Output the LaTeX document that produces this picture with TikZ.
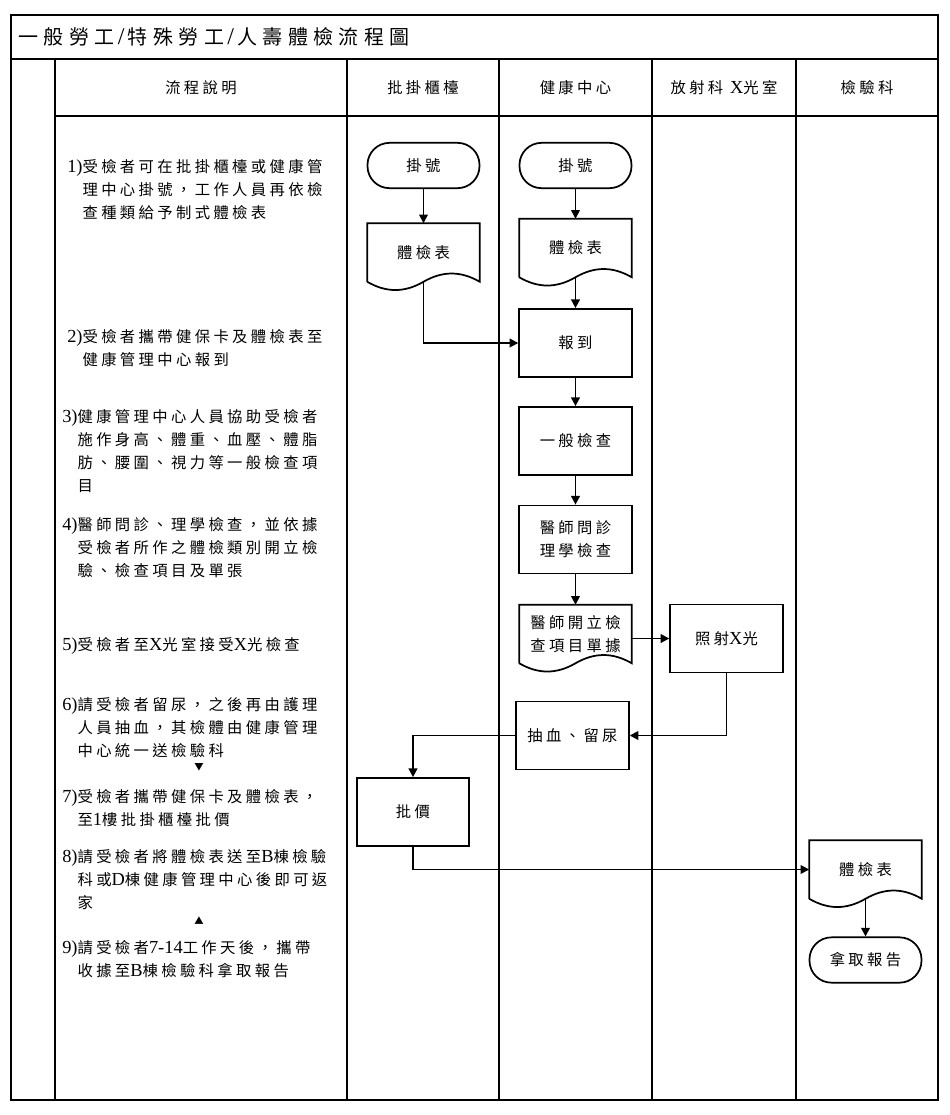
\documentclass[tikz,border=0pt]{standalone}
\usepackage{fontspec}
\setmainfont{Noto Sans CJK TC}
\newfontfamily\bodyfont{Noto Sans CJK TC}[LetterSpace=22]
\newfontfamily\titlefont{Noto Sans CJK TC}[LetterSpace=27]
\newfontfamily\lat{Liberation Serif}[Scale=1.2]
\usepackage{tikz}
\usetikzlibrary{arrows.meta}
\newcommand\docline[1]{\draw[line width=1.3pt] (#1.south west) -- (#1.north west) -- (#1.north east) -- (#1.south east)
  .. controls +(-19,-11) and +(19,-11) .. (#1.south) .. controls +(-19,11) and +(19,11) .. (#1.south west);}

\begin{document}
\begin{tikzpicture}[
x=0.75pt,y=-0.75pt,
font=\bodyfont\fontsize{11.5pt}{17.25pt}\selectfont,
grid/.style={line width=0.8pt},
term/.style={draw, line width=1.3pt, rounded corners=16.5pt, minimum width=84pt, minimum height=34pt, inner sep=0pt},
proc/.style={draw, line width=1.3pt, minimum width=84.5pt, minimum height=51pt, align=center, inner sep=0pt},
docu/.style={minimum width=84pt, minimum height=43.5pt, align=center, inner sep=0pt},
txt/.style={anchor=north west, align=left, inner sep=0pt},
tick/.style={font=\bodyfont\fontsize{7pt}{7pt}\selectfont, inner sep=0pt},
arr/.style={-{Triangle[length=6.5pt,width=6.5pt]}, line width=1.3pt}
]
\useasboundingbox (0,0) rectangle (950,1115);
\draw[grid] (11,15) rectangle (938,1100);
\draw[grid] (11,59) -- (938,59);
\draw[grid] (55,116) -- (938,116);
\foreach \x in {55,347,499,652,796} {\draw[grid] (\x,59) -- (\x,1100);}
\node[anchor=west, inner sep=0pt, font=\titlefont\fontsize{15pt}{15pt}\selectfont] (title) at (18,37) {一般勞工\hspace{2.5pt}{\lat/}\hspace{2.5pt}特殊勞工\hspace{2.5pt}{\lat/}\hspace{2.5pt}人壽體檢流程圖};
\foreach \x/\lbl/\nm in {201/流程說明/hdA,423/批掛櫃檯/hdB,575.5/健康中心/hdC,724/放射科\ {\lat X}光室/hdD,867/檢驗科/hdE} {\node (\nm) at (\x,88) {\lbl};}
\node[txt] (desc1) at (67,159) {{\lat 1)}受檢者可在批掛櫃檯或健康管\\\phantom{\lat 1)}理中心掛號，工作人員再依檢\\\phantom{\lat 1)}查種類給予制式體檢表};
\node[txt] (desc2) at (67,329) {{\lat 2)}受檢者攜帶健保卡及體檢表至\\\phantom{\lat 2)}健康管理中心報到};
\node[txt] (desc3) at (62,409) {{\lat 3)}健康管理中心人員協助受檢者\\\phantom{\lat 3)}施作身高、體重、血壓、體脂\\\phantom{\lat 3)}肪、腰圍、視力等一般檢查項\\\phantom{\lat 3)}目};
\node[txt] (desc4) at (62,517) {{\lat 4)}醫師問診、理學檢查，並依據\\\phantom{\lat 4)}受檢者所作之體檢類別開立檢\\\phantom{\lat 4)}驗、檢查項目及單張};
\node[txt] (desc5) at (62,637) {{\lat 5)}受檢者至{\lat X}光室接受{\lat X}光檢查};
\node[txt] (desc6) at (62,697) {{\lat 6)}請受檢者留尿，之後再由護理\\\phantom{\lat 6)}人員抽血，其檢體由健康管理\\\phantom{\lat 6)}中心統一送檢驗科};
\node[txt] (desc7) at (62,789) {{\lat 7)}受檢者攜帶健保卡及體檢表，\\\phantom{\lat 7)}至{\lat 1}樓批掛櫃檯批價};
\node[txt] (desc8) at (62,849) {{\lat 8)}請受檢者將體檢表送至{\lat B}棟檢驗\\\phantom{\lat 8)}科或{\lat D}棟健康管理中心後即可返\\\phantom{\lat 8)}家};
\node[txt] (desc9) at (62,940) {{\lat 9)}請受檢者{\lat 7-14}工作天後，攜帶\\\phantom{\lat 9)}收據至{\lat B}棟檢驗科拿取報告};
\node[tick] (tickA) at (199,767) {▼};
\node[tick] (tickB) at (199,921) {▲};
\node[term] (regA) at (423.5,165.5) {掛號};
\node[docu] (formA) at (423.5,252.5) {體檢表};
\node[term] (regB) at (575.5,165.5) {掛號};
\node[docu] (formB) at (575.5,248) {體檢表};
\node[proc] (checkin) at (575.5,343) {報到};
\node[proc] (general) at (575.5,441) {一般檢查};
\node[proc] (doctor) at (575.5,539.5) {醫師問診\\理學檢查};
\node[docu] (order) at (575.5,634) {醫師開立檢\\查項目單據};
\node[proc] (xray) at (726.5,638.5) {照射{\lat X}光};
\node[proc] (blood) at (572.5,735.5) {抽血、留尿};
\node[proc] (pay) at (413,812) {批價};
\node[docu] (formC) at (865.5,869.5) {體檢表};
\node[term] (result) at (865.5,960) {拿取報告};
\docline{formA}
\docline{formB}
\docline{order}
\docline{formC}
\draw[arr] (regA) -- (formA);
\draw[arr] (regB) -- (formB);
\draw[arr] (formB.south) -- (checkin);
\draw[arr] (formA.south) |- (checkin);
\draw[arr] (checkin) -- (general);
\draw[arr] (general) -- (doctor);
\draw[arr] (doctor) -- (order);
\draw[arr] (order.east |- xray) -- (xray);
\draw[arr] (xray) |- (blood);
\draw[arr] (blood) -| (pay);
\draw[arr] (pay) |- (formC);
\draw[arr] (formC.south) -- (result);
\end{tikzpicture}
\end{document}
